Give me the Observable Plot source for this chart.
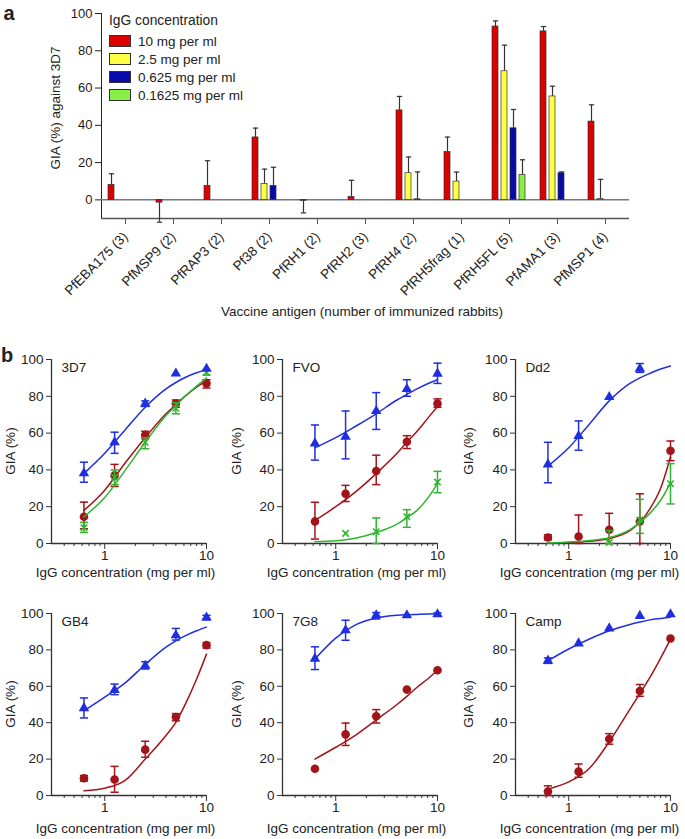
<!DOCTYPE html>
<html><head><meta charset="utf-8">
<script src="https://cdn.jsdelivr.net/npm/d3@7"></script>
<script src="https://cdn.jsdelivr.net/npm/@observablehq/plot@0.6"></script>
<style>
body{margin:0;background:#fff;font-family:"Liberation Sans",Arial,sans-serif;}
#root{position:relative;width:685px;height:839px;overflow:hidden;background:#fff;}
.lbl{position:absolute;white-space:nowrap;color:#222;font-size:13.5px;line-height:1;}
</style></head><body><div id="root"></div>
<script>
// ---------------- Panel a data ----------------
const antigens = ["PfEBA175 (3)","PfMSP9 (2)","PfRAP3 (2)","Pf38 (2)","PfRH1 (2)","PfRH2 (3)","PfRH4 (2)","PfRH5frag (1)","PfRH5FL (5)","PfAMA1 (3)","PfMSP1 (4)"];
const concLabels = ["10 mg per ml","2.5 mg per ml","0.625 mg per ml","0.1625 mg per ml"];
const concColors = ["#dd0000","#ffff44","#0a0aa8","#88f045"];
const gia10      = [8, -1.5, 7.5, 33.5, -0.5, 1.5, 48, 25.7, 93, 90.4, 42];
const gia10Err   = [14, -12, 21, 38.5, -7, 10.5, 55.5, 33.7, 96, 93, 51];
const gia2_5     = [null, null, null, 8.5, null, null, 14.3, 9.8, 69, 55.5, 0.5];
const gia2_5Err  = [null, null, null, 16.5, null, null, 23, 14.9, 83, 61, 11];
const gia0_625    = [null, null, null, 7.5, null, null, 0.3, null, 38.4, 14.3, null];
const gia0_625Err = [null, null, null, 17.5, null, null, 15, null, 48.5, 15, null];
const gia0_1625    = [null, null, null, null, null, null, null, null, 13.4, null, null];
const gia0_1625Err = [null, null, null, null, null, null, null, null, 21.5, null, null];
const yTicksA = [0, 20, 40, 60, 80, 100];
const yDomainA = [-10, 100];

// ---------------- Panel b data ----------------
const doses = [0.625, 1.25, 2.5, 5, 10];
const curveDoses = [0.625, 1, 1.6, 2.5, 4, 5, 6.3, 8, 10];
const majorTicks = [1, 10];
const minorTicks = [0.4, 0.5, 0.6, 0.7, 0.8, 0.9, 2, 3, 4, 5, 6, 7, 8, 9];
const yTicksB = [0, 20, 40, 60, 80, 100];
const xDomainB = [0.3, 10];
const yDomainB = [0, 100];

// 3D7
const blue3D7 = [38.2, 55, 76, 92.4, 95];
const blue3D7Lo = [33.3, 49, 74.5, null, null];
const blue3D7Hi = [44.2, 60.5, 77.5, null, null];
const red3D7 = [14.5, 37, 59, 76, 87];
const red3D7Lo = [8, 31, 57, 74, 84.5];
const red3D7Hi = [22.5, 43, 61, 78, 89];
const green3D7 = [8.5, 36, 55, 73.5, 93];
const green3D7Lo = [6, 32, 51.5, 70.5, 91.5];
const green3D7Hi = [11.5, 40, 57.5, 76.5, 94.5];
const fitBlue3D7 = [38, 49, 62, 74, 84, 87.5, 90.5, 92.8, 94.5];
const fitRed3D7 = [18, 29, 44, 57.5, 70.5, 75.5, 80.5, 85, 88.5];
const fitGreen3D7 = [14.5, 25, 40, 55, 69.5, 75, 80.5, 85.5, 90];
// FVO
const blueFVO = [54.4, 58, 72, 84, 92.3];
const blueFVOLo = [45.3, 46, 62, 80, 87];
const blueFVOHi = [64.4, 72, 82, 89, 98];
const redFVO = [12, 27, 39.4, 55.3, 76];
const redFVOLo = [2.4, 22.8, 32, 51.6, 74];
const redFVOHi = [22.4, 31.6, 48, 58.6, 78.6];
const greenFVO = [null, 5.5, 6.4, 14.6, 33.4];
const greenFVOLo = [null, null, 0, 8.8, 27.6];
const greenFVOHi = [null, null, 13.9, 18.4, 39.2];
const fitBlueFVO = [52, 57.5, 64, 70.5, 78, 81, 84, 86.8, 89];
const fitRedFVO = [12.5, 20, 28.5, 38, 49, 55, 61, 68, 74.5];
const fitGreenFVO = [1, 1.5, 3, 6, 10.5, 14, 18, 24.5, 32.5];
// Dd2
const blueDd2 = [43, 58.4, 79.6, 95, null];
const blueDd2Lo = [33, 50.7, null, 93, null];
const blueDd2Hi = [55, 66.6, null, 97.8, null];
const redDd2 = [3.3, 3.8, 7.5, 12, 50.4];
const redDd2Lo = [2, 0, 0, 0, 45];
const redDd2Hi = [4.7, 15.5, 16.4, 27, 55.7];
const greenDd2 = [null, null, 0.5, 12.8, 32.5];
const greenDd2Lo = [null, null, 0, 5.5, 21.5];
const greenDd2Hi = [null, null, 7, 24, 43.4];
const fitBlueDd2 = [42, 52, 65, 77.5, 87, 90, 92.5, 94.8, 96.5];
const fitRedDd2 = [0.2, 0.5, 1.2, 2.7, 7, 11.5, 19, 30, 47];
const fitGreenDd2 = [0.3, 0.8, 1.6, 3.2, 7.5, 11.5, 16.5, 23.5, 33];
// GB4
const blueGB4 = [48, 58, 71.3, 88, 97.8];
const blueGB4Lo = [42.6, 55.4, 69.5, 85.4, 96.5];
const blueGB4Hi = [53.6, 61.2, 73.5, 91.8, 99];
const redGB4 = [9.5, 8.8, 25.2, 43.1, 82.6];
const redGB4Lo = [7.9, 1.8, 21, 41, 81];
const redGB4Hi = [11, 16, 29.8, 45, 84];
const fitBlueGB4 = [46.5, 54, 62, 72, 81.5, 85, 88, 90.5, 92.5];
const fitRedGB4 = [2.6, 4, 8.5, 20, 33, 40.2, 51, 64, 77.7];
// 7G8
const blue7G8 = [75.2, 90.8, 99, 99, 99.6];
const blue7G8Lo = [69.2, 85.3, 97, null, 98.5];
const blue7G8Hi = [81.7, 96.3, 100.5, null, 100.3];
const red7G8 = [14.7, 33.6, 43.5, 58.2, 68.8];
const red7G8Lo = [null, 27.5, 39.8, null, null];
const red7G8Hi = [null, 39.8, 47.2, null, null];
const fitBlue7G8 = [75, 86.5, 94, 97.5, 99, 99.3, 99.5, 99.7, 99.8];
const fitRed7G8 = [20, 26.5, 33.5, 41.5, 50, 54.5, 59.5, 64, 69];
// Camp
const blueCamp = [74.1, 83.6, 91.8, 98.7, 99.6];
const blueCampLo = [72.6, null, null, null, null];
const blueCampHi = [75.6, null, null, null, null];
const redCamp = [2.2, 13.1, 31, 57.4, 86.3];
const redCampLo = [0, 10, 28.2, 54.5, null];
const redCampHi = [5.3, 17.3, 34, 61, null];
const fitBlueCamp = [74, 80.5, 86, 90.5, 94, 95.3, 96.5, 97.3, 98];
const fitRedCamp = [3.5, 7.5, 15, 29.5, 47.5, 56, 65, 75.5, 86];

const strainNames = ["3D7", "FVO", "Dd2", "GB4", "7G8", "Camp"];

// ---------------- styles ----------------
const FONT = '"Liberation Sans", Arial, sans-serif';
const ink = "#222";
const axisColor = "#333";
const seriesStyle = {
  blue:  {color: "#1f2fe0", symbol: "triangle", r: 3.9},
  red:   {color: "#a3141a", symbol: "circle", r: 4.3},
  green: {color: "#2fb52f", symbol: "times", r: 3.0}
};
const capSymbol = {draw(ctx, size) { const w = Math.sqrt(size); ctx.moveTo(-w, 0); ctx.lineTo(w, 0); }};

const root = document.getElementById("root");
function place(el, left, top) {
  el.style.position = "absolute"; el.style.left = left + "px"; el.style.top = top + "px";
  root.appendChild(el);
}
function text(str, cx, cy, opts = {}) {
  const d = document.createElement("div");
  d.className = "lbl";
  d.textContent = str;
  d.style.left = cx + "px"; d.style.top = cy + "px";
  d.style.transform = "translate(-50%,-50%)" + (opts.rotate ? ` rotate(${opts.rotate}deg)` : "");
  if (opts.size) d.style.fontSize = opts.size + "px";
  if (opts.bold) d.style.fontWeight = "bold";
  root.appendChild(d);
  return d;
}

// ---------------- Panel a ----------------
const concValues = [gia10, gia2_5, gia0_625, gia0_1625];
const concErrs = [gia10Err, gia2_5Err, gia0_625Err, gia0_1625Err];
const rowsA = [];
antigens.forEach((a, i) => {
  concLabels.forEach((c, j) => {
    const v = concValues[j][i];
    if (v != null) rowsA.push({antigen: a, conc: c, value: v, err: concErrs[j][i]});
  });
});

const plotA = Plot.plot({
  width: 660, height: 330,
  marginLeft: 100, marginRight: 30, marginTop: 13, marginBottom: 112,
  style: {fontFamily: FONT, fontSize: "13px", color: ink, background: "transparent", overflow: "visible"},
  fx: {domain: antigens, padding: 0},
  x: {domain: concLabels, axis: null, paddingInner: 0.3, paddingOuter: 0.55},
  y: {domain: yDomainA, ticks: yTicksA, tickSize: 6, label: null, line: true},
  color: {domain: concLabels, range: concColors},
  marks: [
    Plot.axisFx({anchor: "bottom", tickRotate: -45, tickSize: 6, tickPadding: 10, label: null, fontSize: 13.5, stroke: "#555"}),
    Plot.ruleY([yDomainA[0]], {stroke: "#555", strokeWidth: 1.5}),
    Plot.ruleY([0], {stroke: "#777", strokeWidth: 1.5}),
    Plot.ruleX(rowsA.filter(d => d.err != null), {fx: "antigen", x: "conc", y1: "value", y2: "err", stroke: "#333", strokeWidth: 1.2}),
    Plot.dot(rowsA.filter(d => d.err != null), {fx: "antigen", x: "conc", y: "err", symbol: capSymbol, r: 1.5, stroke: "#333", fill: "none", strokeWidth: 1.2}),
    Plot.barY(rowsA, {fx: "antigen", x: "conc", y: "value", fill: "conc", stroke: "#333", strokeWidth: 0.7})
  ]
});
place(plotA, 0, 0);

// legend of panel a
const leg = document.createElement("div");
leg.style.fontFamily = FONT;
leg.innerHTML = `<div style="font-size:13.8px;color:${ink};margin-bottom:4px">IgG concentration</div>` +
  concLabels.map((c, j) => `<div style="display:flex;align-items:center;height:18px;font-size:13.5px;color:${ink}">
     <span style="display:inline-block;width:20px;height:10px;background:${concColors[j]};border:1px solid #333;margin-right:7px"></span>${c}</div>`).join("");
place(leg, 109, 13);

text("a", 9, 13, {size: 20, bold: true});
text("GIA (%) against 3D7", 56, 108, {rotate: -90});
text("Vaccine antigen (number of immunized rabbits)", 362, 312);

// ---------------- Panel b ----------------
const panels = [
  {name: strainNames[0], col: 0, row: 0, series: [
    {k: "red", v: red3D7, lo: red3D7Lo, hi: red3D7Hi, fit: fitRed3D7},
    {k: "green", v: green3D7, lo: green3D7Lo, hi: green3D7Hi, fit: fitGreen3D7},
    {k: "blue", v: blue3D7, lo: blue3D7Lo, hi: blue3D7Hi, fit: fitBlue3D7}]},
  {name: strainNames[1], col: 1, row: 0, series: [
    {k: "red", v: redFVO, lo: redFVOLo, hi: redFVOHi, fit: fitRedFVO},
    {k: "green", v: greenFVO, lo: greenFVOLo, hi: greenFVOHi, fit: fitGreenFVO},
    {k: "blue", v: blueFVO, lo: blueFVOLo, hi: blueFVOHi, fit: fitBlueFVO}]},
  {name: strainNames[2], col: 2, row: 0, series: [
    {k: "red", v: redDd2, lo: redDd2Lo, hi: redDd2Hi, fit: fitRedDd2},
    {k: "green", v: greenDd2, lo: greenDd2Lo, hi: greenDd2Hi, fit: fitGreenDd2},
    {k: "blue", v: blueDd2, lo: blueDd2Lo, hi: blueDd2Hi, fit: fitBlueDd2}]},
  {name: strainNames[3], col: 0, row: 1, series: [
    {k: "red", v: redGB4, lo: redGB4Lo, hi: redGB4Hi, fit: fitRedGB4},
    {k: "blue", v: blueGB4, lo: blueGB4Lo, hi: blueGB4Hi, fit: fitBlueGB4}]},
  {name: strainNames[4], col: 1, row: 1, series: [
    {k: "red", v: red7G8, lo: red7G8Lo, hi: red7G8Hi, fit: fitRed7G8},
    {k: "blue", v: blue7G8, lo: blue7G8Lo, hi: blue7G8Hi, fit: fitBlue7G8}]},
  {name: strainNames[5], col: 2, row: 1, series: [
    {k: "red", v: redCamp, lo: redCampLo, hi: redCampHi, fit: fitRedCamp},
    {k: "blue", v: blueCamp, lo: blueCampLo, hi: blueCampHi, fit: fitBlueCamp}]}
];

const colAxisX = [51, 282, 515];
const colLabelOff = [40, 45, 46];
const rowTopY = [359, 613];
const rowPlotH = [184, 182];
const rowLabelGap = [30, 34];
const ML = 50, MR = 12, MT = 12, MB = 42, PW = 155;

for (const p of panels) {
  const marks = [
    Plot.ruleY([yDomainB[0]], {stroke: axisColor, strokeWidth: 1.3}),
    Plot.ruleX([xDomainB[0]], {stroke: axisColor, strokeWidth: 1.3}),
    Plot.axisY({ticks: yTicksB, tickSize: 5, tickPadding: 3, label: null, stroke: axisColor}),
    Plot.axisX({ticks: majorTicks, tickSize: 6, tickPadding: 1, tickFormat: d => String(d), label: null, stroke: axisColor}),
    Plot.axisX({ticks: minorTicks, tickSize: 3, tickFormat: () => "", label: null, stroke: axisColor}),
    Plot.text([p.name], {text: d => d, frameAnchor: "top-left", lineAnchor: "top", dx: 10, dy: 3, fontSize: 13.5, fill: ink})
  ];
  for (const s of p.series) {
    const st = seriesStyle[s.k];
    marks.push(Plot.line(s.fit, {x: curveDoses, y: s.fit, stroke: st.color, strokeWidth: 1.5, curve: "monotone-x"}));
    const idx = doses.map((d, i) => i);
    const ebIdx = idx.filter(i => s.lo[i] != null && s.hi[i] != null);
    marks.push(Plot.ruleX(ebIdx, {x: i => doses[i], y1: i => s.lo[i], y2: i => s.hi[i], stroke: st.color, strokeWidth: 1.5}));
    marks.push(Plot.dot(ebIdx, {x: i => doses[i], y: i => s.lo[i], symbol: capSymbol, r: 2.3, stroke: st.color, fill: "none", strokeWidth: 1.5}));
    marks.push(Plot.dot(ebIdx, {x: i => doses[i], y: i => s.hi[i], symbol: capSymbol, r: 2.3, stroke: st.color, fill: "none", strokeWidth: 1.5}));
    const ptIdx = idx.filter(i => s.v[i] != null);
    if (st.symbol === "times") {
      marks.push(Plot.dot(ptIdx, {x: i => doses[i], y: i => s.v[i], symbol: "times", r: st.r, stroke: st.color, strokeWidth: 1.6}));
    } else {
      marks.push(Plot.dot(ptIdx, {x: i => doses[i], y: i => s.v[i], symbol: st.symbol, r: st.r, fill: st.color, stroke: "none"}));
    }
  }
  const ph = rowPlotH[p.row];
  const chart = Plot.plot({
    width: ML + PW + MR, height: MT + ph + MB,
    marginLeft: ML, marginRight: MR, marginTop: MT, marginBottom: MB,
    style: {fontFamily: FONT, fontSize: "13.5px", color: ink, background: "transparent", overflow: "visible"},
    x: {type: "log", domain: xDomainB},
    y: {domain: yDomainB},
    marks
  });
  const ax = colAxisX[p.col], ty = rowTopY[p.row];
  place(chart, ax - ML, ty - MT);
  text("GIA (%)", ax - colLabelOff[p.col], ty + ph / 2, {rotate: -90});
  text("IgG concentration (mg per ml)", ax + PW / 2 - 3, ty + ph + rowLabelGap[p.row]);
}
text("b", 7, 355, {size: 20, bold: true});
</script>
</body></html>
